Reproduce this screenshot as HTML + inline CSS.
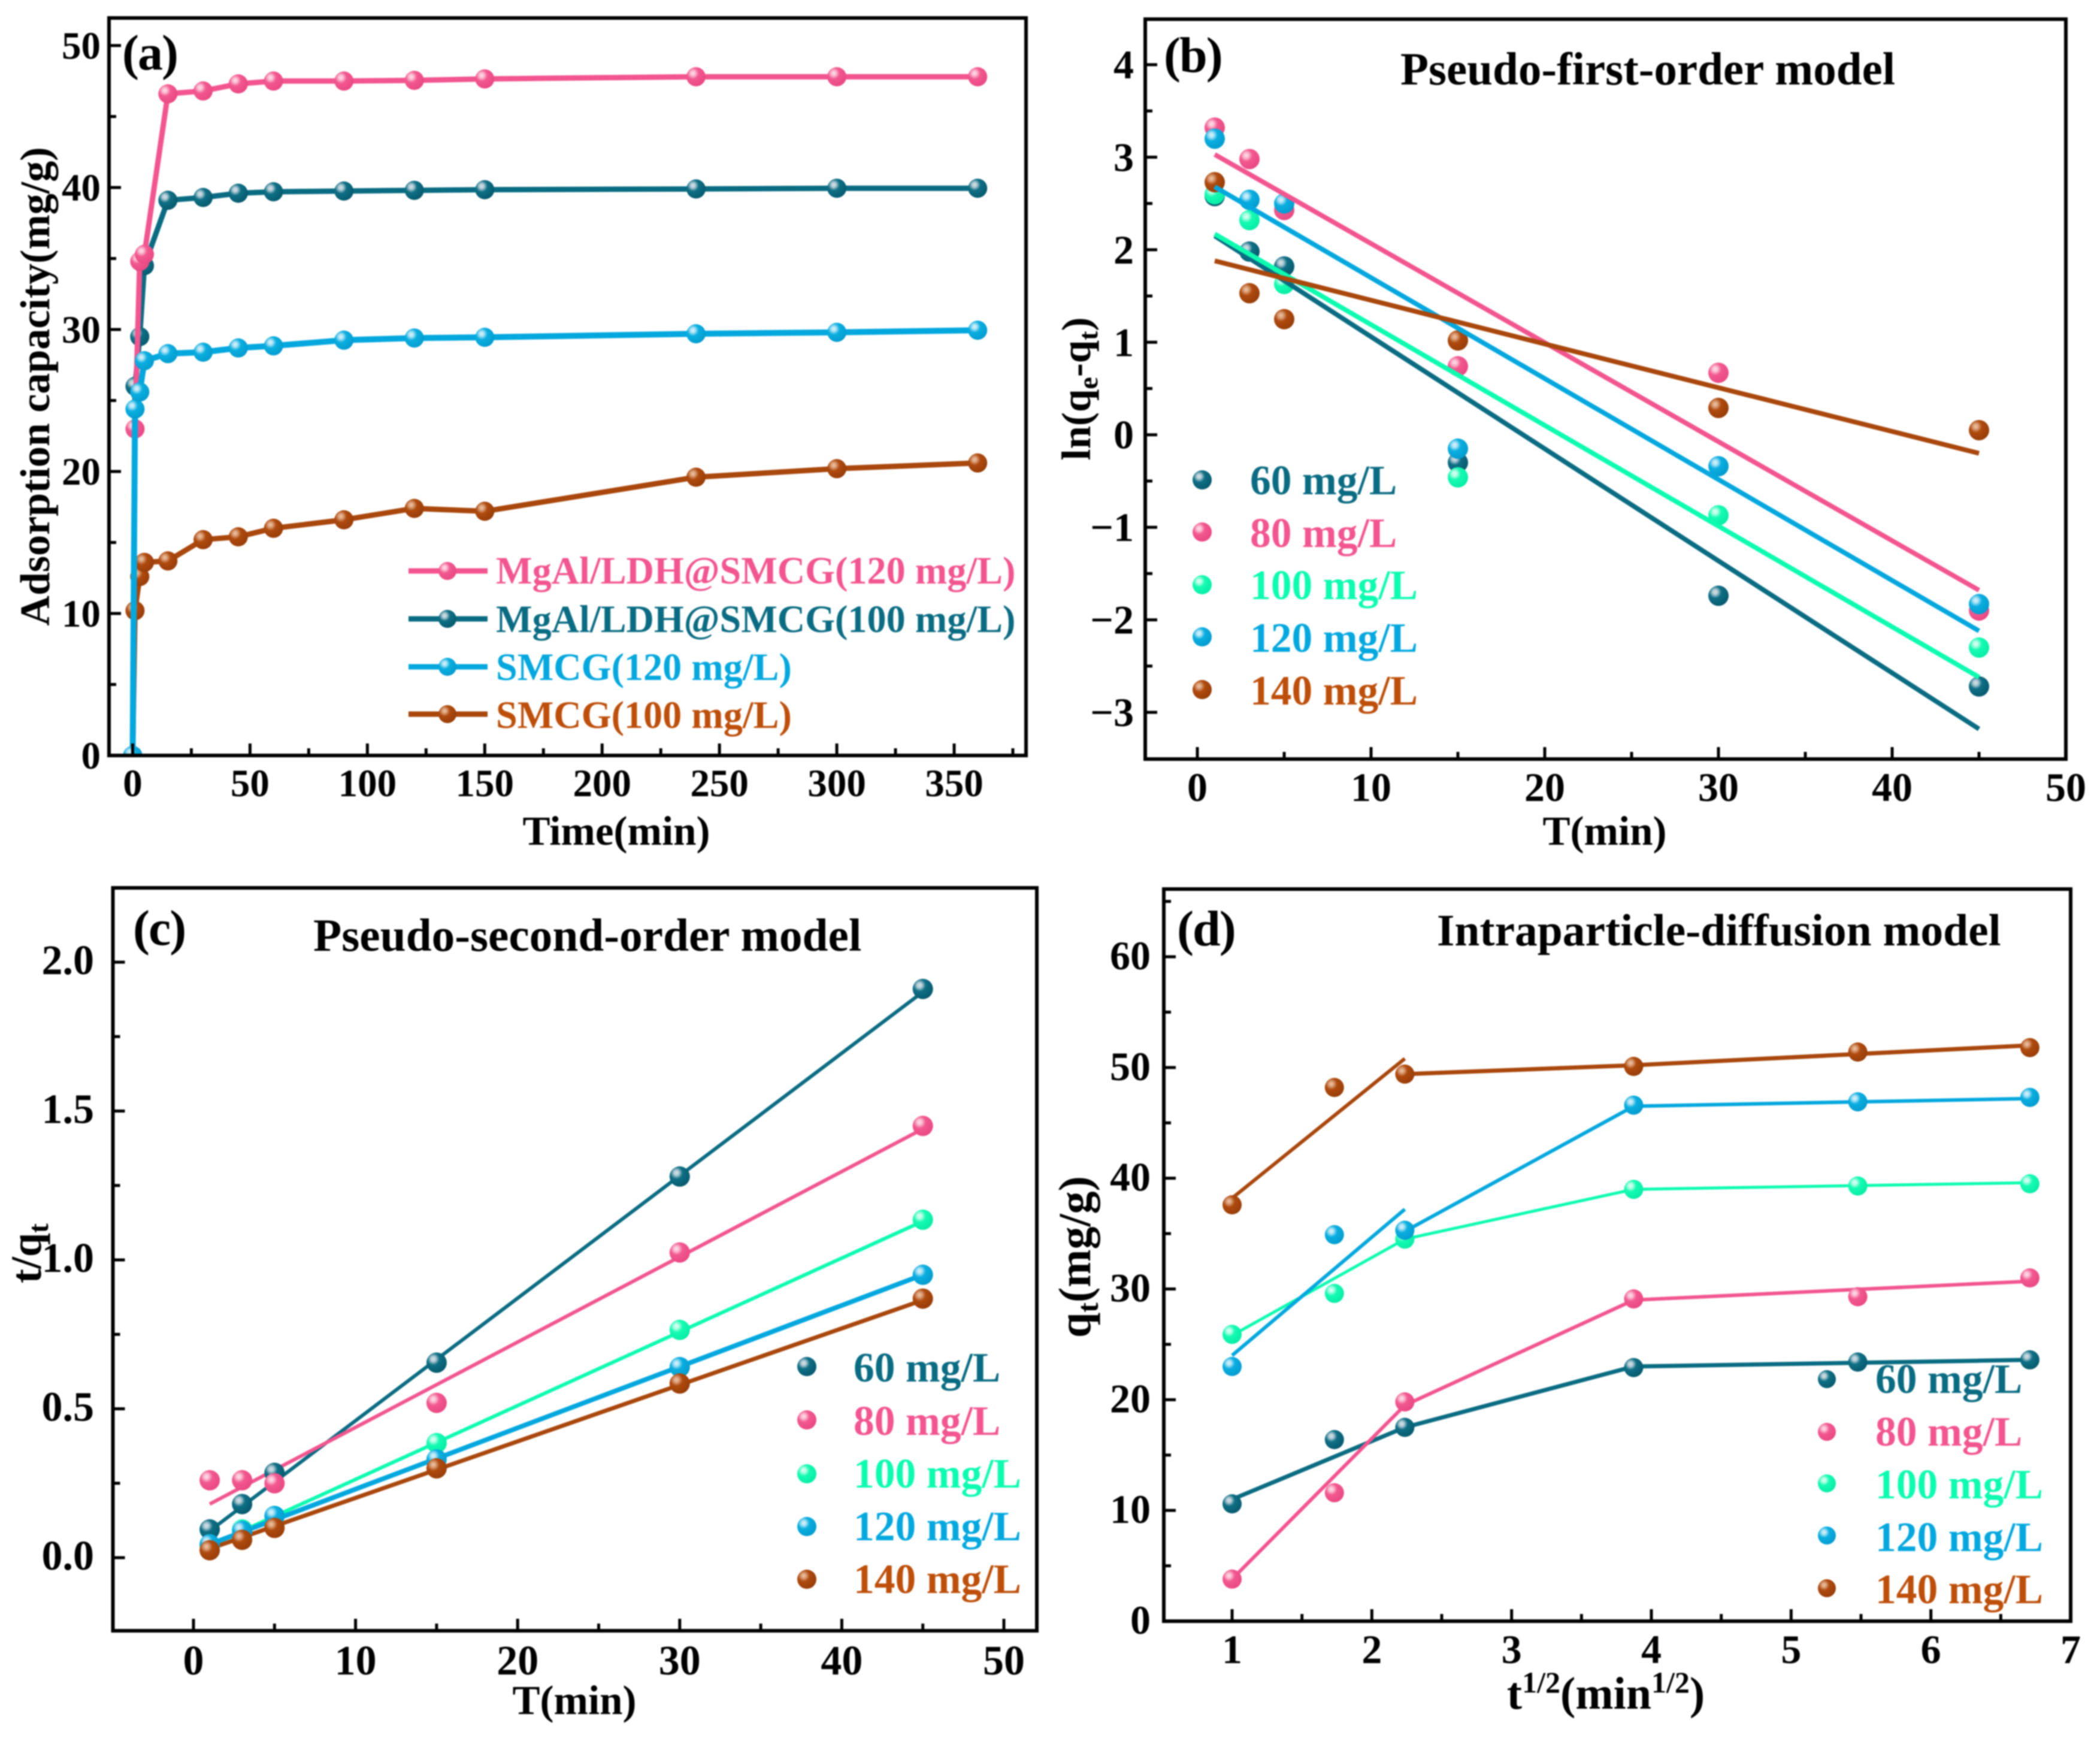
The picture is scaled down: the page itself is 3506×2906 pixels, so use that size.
<!DOCTYPE html>
<html lang="en">
<head>
<meta charset="utf-8">
<title>Adsorption kinetics charts</title>
<style>
html,body{margin:0;padding:0;background:#fff;}
svg{display:block;filter:blur(1px);}
text{font-family:"Liberation Serif",serif;font-weight:bold;}
.tick{fill:#000;}
.axt{font-size:69px;fill:#000;}
.ttl{font-size:76.5px;fill:#000;}
.tag{font-size:84px;fill:#000;letter-spacing:-2px;}
.leg{font-size:69.5px;}
.teal{fill:#0a6c82;}.pink{fill:#f2558f;}.mint{fill:#0cfcb0;}.blue{fill:#04a8de;}.brown{fill:#bd4f0a;}
</style>
</head>
<body>
<svg id="chart" xmlns="http://www.w3.org/2000/svg" width="3506" height="2906" viewBox="0 0 3506 2906">
<defs>
<radialGradient id="g-teal" cx="0.34" cy="0.32" r="0.72"><stop offset="0" stop-color="#d5e2e8"/><stop offset="0.17" stop-color="#b4ccd5"/><stop offset="0.42" stop-color="#0f6f85"/><stop offset="1" stop-color="#065a6e"/></radialGradient>
<radialGradient id="g-pink" cx="0.34" cy="0.32" r="0.72"><stop offset="0" stop-color="#fde0ea"/><stop offset="0.17" stop-color="#fabfd3"/><stop offset="0.42" stop-color="#f2588f"/><stop offset="1" stop-color="#ea4883"/></radialGradient>
<radialGradient id="g-mint" cx="0.34" cy="0.32" r="0.72"><stop offset="0" stop-color="#e2fff5"/><stop offset="0.17" stop-color="#b5ffe6"/><stop offset="0.42" stop-color="#14fbb2"/><stop offset="1" stop-color="#08eda6"/></radialGradient>
<radialGradient id="g-blue" cx="0.34" cy="0.32" r="0.72"><stop offset="0" stop-color="#dcf3fb"/><stop offset="0.17" stop-color="#aee3f5"/><stop offset="0.42" stop-color="#0aaee0"/><stop offset="1" stop-color="#049ccf"/></radialGradient>
<radialGradient id="g-brown" cx="0.34" cy="0.32" r="0.72"><stop offset="0" stop-color="#eec6a8"/><stop offset="0.17" stop-color="#dca27c"/><stop offset="0.42" stop-color="#ae4a0e"/><stop offset="1" stop-color="#983d08"/></radialGradient>
<clipPath id="clip-a"><rect x="182" y="30" width="1531" height="1231"/></clipPath>
</defs>

<g id="panel-a">
  <rect x="182" y="30" width="1531" height="1231" fill="#fff"/>
  <g id="marks-a" clip-path="url(#clip-a)"></g>
  <g id="ticks-a"></g>
  <rect x="182" y="30" width="1531" height="1231" fill="none" stroke="#000" stroke-width="6"/>
  <text class="tag" x="204" y="116">(a)</text>
  <text class="axt" x="1029" y="1410" text-anchor="middle">Time(min)</text>
  <text class="axt" transform="translate(82,645) rotate(-90)" text-anchor="middle" style="font-size:70px">Adsorption capacity(mg/g)</text>
  <g>
    <g><line x1="682" y1="953" x2="814" y2="953" stroke="#f2558f" stroke-width="9"/><circle cx="747" cy="953" r="15" fill="url(#g-pink)"/><text class="pink" x="828" y="974" style="font-size:64.2px">MgAl/LDH@SMCG(120 mg/L)</text></g>
    <g><line x1="682" y1="1033" x2="814" y2="1033" stroke="#0a6c82" stroke-width="9"/><circle cx="747" cy="1033" r="15" fill="url(#g-teal)"/><text class="teal" x="828" y="1055" style="font-size:64.2px">MgAl/LDH@SMCG(100 mg/L)</text></g>
    <g><line x1="682" y1="1113" x2="814" y2="1113" stroke="#04a8de" stroke-width="9"/><circle cx="747" cy="1113" r="15" fill="url(#g-blue)"/><text class="blue" x="828" y="1135" style="font-size:64.2px">SMCG(120 mg/L)</text></g>
    <g><line x1="682" y1="1192" x2="814" y2="1192" stroke="#a9470c" stroke-width="9"/><circle cx="747" cy="1192" r="15" fill="url(#g-brown)"/><text class="brown" x="828" y="1215" style="font-size:64.2px">SMCG(100 mg/L)</text></g>
  </g>
</g>

<g id="panel-b">
  <rect x="1912" y="32" width="1537" height="1235" fill="#fff"/>
  <g id="marks-b"></g>
  <g id="ticks-b"></g>
  <rect x="1912" y="32" width="1537" height="1235" fill="none" stroke="#000" stroke-width="6"/>
  <text class="tag" x="1943" y="120">(b)</text>
  <text class="ttl" x="2338" y="141" style="font-size:77px">Pseudo-first-order model</text>
  <text class="axt" x="2679" y="1410" text-anchor="middle">T(min)</text>
  <text class="axt" transform="translate(1820,649) rotate(-90)" text-anchor="middle">ln(q<tspan dy="12" font-size="46">e</tspan><tspan dy="-12">-q</tspan><tspan dy="12" font-size="46">t</tspan><tspan dy="-12">)</tspan></text>
  <g>
    <g ><circle cx="2007" cy="801" r="16" fill="url(#g-teal)"/><text class="leg teal" x="2087" y="825">60 mg/L</text></g>
    <g ><circle cx="2007" cy="888" r="16" fill="url(#g-pink)"/><text class="leg pink" x="2087" y="913">80 mg/L</text></g>
    <g><circle cx="2007" cy="976" r="16" fill="url(#g-mint)"/><text class="leg mint" x="2087" y="1000">100 mg/L</text></g>
    <g><circle cx="2007" cy="1063" r="16" fill="url(#g-blue)"/><text class="leg blue" x="2087" y="1088">120 mg/L</text></g>
    <g><circle cx="2007" cy="1151" r="16" fill="url(#g-brown)"/><text class="leg brown" x="2087" y="1176">140 mg/L</text></g>
  </g>
</g>

<g id="panel-c">
  <rect x="188.5" y="1482" width="1542.5" height="1240" fill="#fff"/>
  <g id="marks-c"></g>
  <g id="ticks-c"></g>
  <rect x="188.5" y="1482" width="1542.5" height="1240" fill="none" stroke="#000" stroke-width="6"/>
  <text class="tag" x="222" y="1577">(c)</text>
  <text class="ttl" x="523" y="1587" style="font-size:77.3px">Pseudo-second-order model</text>
  <text class="axt" x="959" y="2861" text-anchor="middle">T(min)</text>
  <text class="axt" transform="translate(68,2092) rotate(-90)" text-anchor="middle" style="font-size:72px">t/q<tspan dy="12" font-size="48">t</tspan></text>
  <g>
    <g ><circle cx="1347" cy="2281" r="16" fill="url(#g-teal)"/><text class="leg teal" x="1425" y="2306">60 mg/L</text></g>
    <g ><circle cx="1347" cy="2370" r="16" fill="url(#g-pink)"/><text class="leg pink" x="1425" y="2395">80 mg/L</text></g>
    <g><circle cx="1347" cy="2460" r="16" fill="url(#g-mint)"/><text class="leg mint" x="1425" y="2483">100 mg/L</text></g>
    <g><circle cx="1347" cy="2548" r="16" fill="url(#g-blue)"/><text class="leg blue" x="1425" y="2571">120 mg/L</text></g>
    <g><circle cx="1347" cy="2636" r="16" fill="url(#g-brown)"/><text class="leg brown" x="1425" y="2659">140 mg/L</text></g>
  </g>
</g>

<g id="panel-d">
  <rect x="1943" y="1484" width="1514" height="1222" fill="#fff"/>
  <g id="marks-d"></g>
  <g id="ticks-d"></g>
  <rect x="1943" y="1484" width="1514" height="1222" fill="none" stroke="#000" stroke-width="6"/>
  <text class="tag" x="1965" y="1578">(d)</text>
  <text class="ttl" x="2399" y="1578" style="font-size:75.5px">Intraparticle-diffusion model</text>
  <text class="axt" x="2681" y="2852" text-anchor="middle" style="font-size:76px">t<tspan dy="-27" font-size="50">1/2</tspan><tspan dy="27">(min</tspan><tspan dy="-27" font-size="50">1/2</tspan><tspan dy="27">)</tspan></text>
  <text class="axt" transform="translate(1820,2098) rotate(-90)" text-anchor="middle" style="font-size:76px">q<tspan dy="13" font-size="50">t</tspan><tspan dy="-13">(mg/g)</tspan></text>
  <g>
    <g ><circle cx="3050" cy="2302" r="15" fill="url(#g-teal)"/><text class="leg teal" x="3131" y="2325">60 mg/L</text></g>
    <g ><circle cx="3050" cy="2390" r="15" fill="url(#g-pink)"/><text class="leg pink" x="3131" y="2413">80 mg/L</text></g>
    <g><circle cx="3050" cy="2476" r="15" fill="url(#g-mint)"/><text class="leg mint" x="3131" y="2501">100 mg/L</text></g>
    <g><circle cx="3050" cy="2563" r="15" fill="url(#g-blue)"/><text class="leg blue" x="3131" y="2589">120 mg/L</text></g>
    <g><circle cx="3050" cy="2651" r="15" fill="url(#g-brown)"/><text class="leg brown" x="3131" y="2676">140 mg/L</text></g>
  </g>
</g>
</svg>

<script>
/* ---------- Panel (a) data ---------- */
const timeA = [0,1,3,5,15,30,45,60,90,120,150,240,300,360];
const capMgal120 = [0,23,34.8,35.3,46.6,46.8,47.3,47.5,47.5,47.55,47.65,47.8,47.8,47.8];
const capMgal100 = [0,26,29.5,34.5,39.1,39.3,39.6,39.7,39.75,39.8,39.85,39.9,39.95,39.95];
const capSmcg120 = [0,24.4,25.6,27.8,28.3,28.4,28.7,28.85,29.25,29.4,29.45,29.7,29.8,29.95];
const capSmcg100 = [0,10.2,12.6,13.6,13.7,15.2,15.4,16,16.6,17.4,17.2,19.6,20.2,20.6];
const xTicksA = [0,50,100,150,200,250,300,350];
const xMinorA = [25,75,125,175,225,275,325,375];
const yTicksA = [0,10,20,30,40,50];
const yMinorA = [5,15,25,35,45];

/* ---------- Panel (b) data ---------- */
const timeB = [1,3,5,15,30,45];
const lnq60 = [2.58,1.98,1.82,-0.3,-1.74,-2.72];
const lnq80 = [3.32,2.98,2.43,0.74,0.67,-1.9];
const lnq100 = [2.6,2.32,1.63,-0.46,-0.87,-2.3];
const lnq120 = [3.2,2.54,2.5,-0.15,-0.34,-1.83];
const lnq140 = [2.73,1.53,1.25,1.02,0.29,0.05];
const fitTimeB = [1,45];
const fitB60 = [2.15,-3.18];
const fitB80 = [3.03,-1.68];
const fitB100 = [2.17,-2.62];
const fitB120 = [2.68,-2.12];
const fitB140 = [1.88,-0.2];
const xTicksB = [0,10,20,30,40,50];
const xMinorB = [5,15,25,35,45];
const yTicksB = [-3,-2,-1,0,1,2,3,4];
const yMinorB = [-2.5,-1.5,-0.5,0.5,1.5,2.5,3.5];

/* ---------- Panel (c) data ---------- */
const timeC = [1,3,5,15,30,45];
const tq60 = [0.095,0.18,0.285,0.655,1.28,1.91];
const tq80 = [0.26,0.26,0.25,0.52,1.025,1.45];
const tq100 = [0.04,0.095,0.14,0.385,0.765,1.135];
const tq120 = [0.045,0.09,0.14,0.33,0.64,0.95];
const tq140 = [0.025,0.06,0.1,0.3,0.585,0.87];
const fitTimeC = [1,45];
const fitC60 = [0.09,1.9];
const fitC80 = [0.18,1.44];
const fitC100 = [0.04,1.13];
const fitC120 = [0.045,0.95];
const fitC140 = [0.03,0.865];
const xTicksC = [0,10,20,30,40,50];
const xMinorC = [5,15,25,35,45];
const yTicksC = ['0.0','0.5','1.0','1.5','2.0'];
const yMinorC = [0.25,0.75,1.25,1.75];

/* ---------- Panel (d) data ---------- */
const rootTimeD = [1,1.732,2.236,3.873,5.477,6.708];
const qt60 = [10.6,16.4,17.5,22.9,23.4,23.6];
const qt80 = [3.8,11.6,19.8,29.1,29.3,31];
const qt100 = [25.9,29.6,34.5,39,39.3,39.5];
const qt120 = [23,34.9,35.3,46.6,46.9,47.3];
const qt140 = [37.6,48.2,49.4,50.1,51.4,51.8];
const fitXD = [1,2.236,3.873,6.708];
const fitD60 = [11,17.5,23,23.6];
const fitD80 = [3.8,19.5,29,30.7];
const fitD100 = [25.8,34.5,39,39.6];
const fitXEarlyD = [1,2.236];
const fitD120Early = [24,37.2];
const fitD140Early = [38.2,50.8];
const fitXLateD = [2.236,3.873,6.708];
const fitD120Late = [35.2,46.5,47.2];
const fitD140Late = [49.4,50.2,52];
const xTicksD = [1,2,3,4,5,6,7];
const xMinorD = [1.5,2.5,3.5,4.5,5.5,6.5];
const yTicksD = [0,10,20,30,40,50,60];
const yMinorD = [5,15,25,35,45,55,65];

/* ---------- Colours ---------- */
const COL = {teal:'#0a6c82',pink:'#f2558f',mint:'#0cfcb0',blue:'#04a8de',brown:'#a9470c'};

/* ---------- Axis functions ---------- */
function linear(d0,d1,p0,p1){return function(v){return p0+(v-d0)*(p1-p0)/(d1-d0);};}
const xA = linear(0,350,221.5,1593), yA = linear(0,50,1261,76);
const xB = linear(0,50,1999,3449),   yB = linear(-3,4,1189,108);
const xC = linear(0,50,323,1676),    yC = linear(0,2,2600,1606);
const xD = linear(1,7,2057,3457),    yD = linear(0,60,2706,1597);

const NS = 'http://www.w3.org/2000/svg';
function mk(tag,attrs,parent){
  const el = document.createElementNS(NS,tag);
  for(const k in attrs){el.setAttribute(k,attrs[k]);}
  parent.appendChild(el);
  return el;
}

function drawLine(parent,xs,ys,fx,fy,colour,width,name){
  const pts = xs.map(function(x,i){return fx(x).toFixed(1)+','+fy(ys[i]).toFixed(1);}).join(' ');
  const el = mk('polyline',{points:pts,fill:'none',stroke:COL[colour],'stroke-width':width,'stroke-linejoin':'round'},parent);
  
  
}

function drawPoints(parent,xs,ys,fx,fy,colour,r,name){
  xs.forEach(function(x,i){
    const el = mk('circle',{cx:fx(x).toFixed(1),cy:fy(ys[i]).toFixed(1),r:r,fill:'url(#g-'+colour+')'},parent);
    
    
  });
}

function drawAxes(id,cfg){
  const g = document.getElementById(id);
  cfg.xMajor.forEach(function(v){
    const t = mk('line',{x1:cfg.fx(v),x2:cfg.fx(v),y1:cfg.bottom,y2:cfg.bottom-17,stroke:'#000','stroke-width':5},g);
    
    
    const l = mk('text',{x:cfg.fx(v),y:cfg.xLabelY,'text-anchor':'middle','class':'tick','font-size':cfg.fontSize},g);
    
    
    l.textContent = String(v);
  });
  cfg.xMinor.forEach(function(v){
    const t = mk('line',{x1:cfg.fx(v),x2:cfg.fx(v),y1:cfg.bottom,y2:cfg.bottom-9,stroke:'#000','stroke-width':5},g);
    
    
  });
  cfg.yMajor.forEach(function(v){
    const n = Number(v);
    const t = mk('line',{x1:cfg.left,x2:cfg.left+17,y1:cfg.fy(n),y2:cfg.fy(n),stroke:'#000','stroke-width':5},g);
    
    
    const l = mk('text',{x:cfg.yLabelX,y:cfg.fy(n)+cfg.yLabelOffset,'text-anchor':'end','class':'tick','font-size':cfg.fontSize},g);
    
    
    l.textContent = String(v).replace('-','\u2212');
  });
  cfg.yMinor.forEach(function(v){
    const t = mk('line',{x1:cfg.left,x2:cfg.left+9,y1:cfg.fy(v),y2:cfg.fy(v),stroke:'#000','stroke-width':5},g);
    
    
  });
}

/* ---------- Panel (a) ---------- */
(function(){
  const g = document.getElementById('marks-a');
  const order = [[capSmcg100,'brown','smcg-100',9],[capMgal100,'teal','mgal-ldh-100',9],[capMgal120,'pink','mgal-ldh-120',9],[capSmcg120,'blue','smcg-120',10]];
  order.forEach(function(s){
    drawLine(g,timeA,s[0],xA,yA,s[1],s[3],s[2]);
    drawPoints(g,timeA,s[0],xA,yA,s[1],16,s[2]);
  });
  drawAxes('ticks-a',{fx:xA,fy:yA,left:185,bottom:1258,xMajor:xTicksA,xMinor:xMinorA,yMajor:yTicksA,yMinor:yMinorA,xLabelY:1329,yLabelX:168,yLabelOffset:22,fontSize:65});
})();

/* ---------- Panel (b) ---------- */
(function(){
  const g = document.getElementById('marks-b');
  const pts = [[lnq60,'teal','series-60'],[lnq80,'pink','series-80'],[lnq100,'mint','series-100'],[lnq120,'blue','series-120'],[lnq140,'brown','series-140']];
  pts.forEach(function(s){drawPoints(g,timeB,s[0],xB,yB,s[1],17,s[2]);});
  const fits = [[fitB60,'teal','fit-60'],[fitB80,'pink','fit-80'],[fitB100,'mint','fit-100'],[fitB120,'blue','fit-120'],[fitB140,'brown','fit-140']];
  fits.forEach(function(s){drawLine(g,fitTimeB,s[0],xB,yB,s[1],8,s[2]);});
  drawAxes('ticks-b',{fx:xB,fy:yB,left:1915,bottom:1264,xMajor:xTicksB,xMinor:xMinorB,yMajor:yTicksB,yMinor:yMinorB,xLabelY:1337,yLabelX:1893,yLabelOffset:23,fontSize:68});
})();

/* ---------- Panel (c) ---------- */
(function(){
  const g = document.getElementById('marks-c');
  const fits = [[fitC60,'teal','fit-60',6],[fitC80,'pink','fit-80',6],[fitC100,'mint','fit-100',6],[fitC120,'blue','fit-120',8],[fitC140,'brown','fit-140',7]];
  fits.forEach(function(s){drawLine(g,fitTimeC,s[0],xC,yC,s[1],s[3],s[2]);});
  const pts = [[tq60,'teal','series-60'],[tq80,'pink','series-80'],[tq100,'mint','series-100'],[tq120,'blue','series-120'],[tq140,'brown','series-140']];
  pts.forEach(function(s){drawPoints(g,timeC,s[0],xC,yC,s[1],17,s[2]);});
  drawAxes('ticks-c',{fx:xC,fy:yC,left:191.5,bottom:2719,xMajor:xTicksC,xMinor:xMinorC,yMajor:yTicksC,yMinor:yMinorC,xLabelY:2795,yLabelX:157,yLabelOffset:20,fontSize:70});
})();

/* ---------- Panel (d) ---------- */
(function(){
  const g = document.getElementById('marks-d');
  drawLine(g,fitXD,fitD60,xD,yD,'teal',7,'fit-60');
  drawLine(g,fitXD,fitD80,xD,yD,'pink',6,'fit-80');
  drawLine(g,fitXD,fitD100,xD,yD,'mint',5,'fit-100');
  drawLine(g,fitXEarlyD,fitD120Early,xD,yD,'blue',6,'fit-120-early');
  drawLine(g,fitXLateD,fitD120Late,xD,yD,'blue',6,'fit-120-late');
  drawLine(g,fitXEarlyD,fitD140Early,xD,yD,'brown',6,'fit-140-early');
  drawLine(g,fitXLateD,fitD140Late,xD,yD,'brown',7,'fit-140-late');
  const pts = [[qt60,'teal','series-60'],[qt80,'pink','series-80'],[qt100,'mint','series-100'],[qt120,'blue','series-120'],[qt140,'brown','series-140']];
  pts.forEach(function(s){drawPoints(g,rootTimeD,s[0],xD,yD,s[1],16,s[2]);});
  drawAxes('ticks-d',{fx:xD,fy:yD,left:1946,bottom:2703,xMajor:xTicksD,xMinor:xMinorD,yMajor:yTicksD,yMinor:yMinorD,xLabelY:2776,yLabelX:1921,yLabelOffset:21,fontSize:68});
})();
</script>
</body>
</html>
